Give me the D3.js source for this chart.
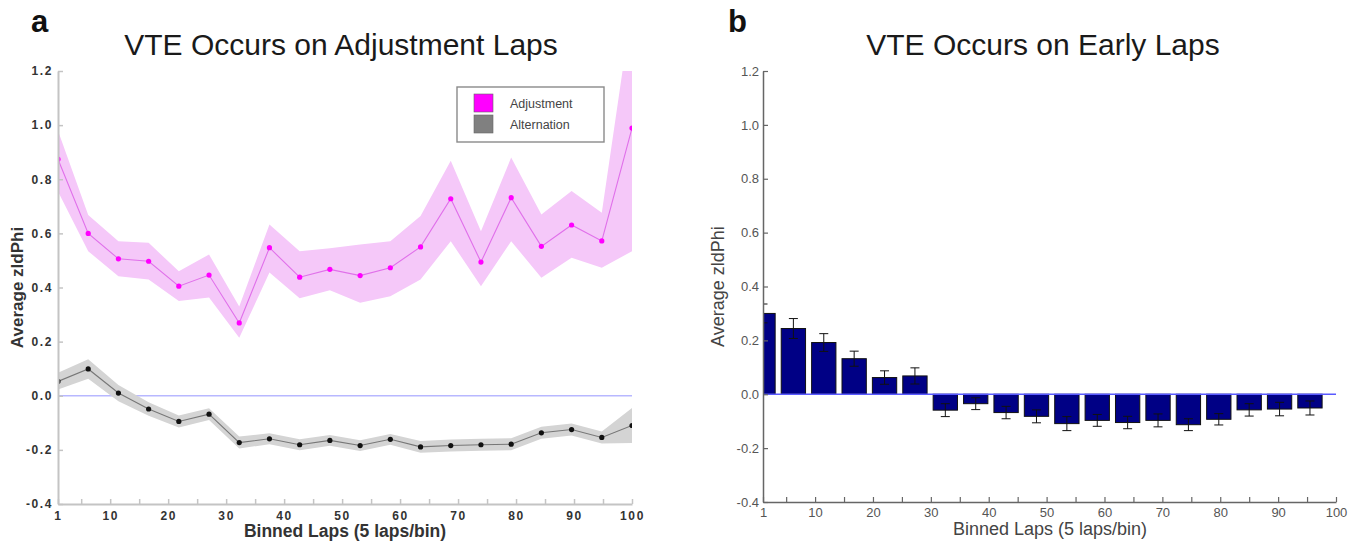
<!DOCTYPE html>
<html>
<head>
<meta charset="utf-8">
<script src="https://cdn.jsdelivr.net/npm/d3@7"></script>
<style>
  html, body { margin: 0; padding: 0; background: #fff; }
  svg { display: block; font-family: "Liberation Sans", Arial, sans-serif; }
</style>
</head>
<body>
<svg id="chart" width="1363" height="544"></svg>
<script>
// ---------- DATA ----------
// Panel a: binned laps (20 bins) and z-IdPhi averages with shaded error band
const lapBins = [1, 6.21, 11.42, 16.63, 21.84, 27.05, 32.26, 37.47, 42.68, 47.89,
                 53.11, 58.32, 63.53, 68.74, 73.95, 79.16, 84.37, 89.58, 94.79, 100];
const adjMean  = [0.874, 0.600, 0.506, 0.497, 0.405, 0.446, 0.269, 0.547, 0.438, 0.467,
                  0.444, 0.473, 0.550, 0.728, 0.494, 0.732, 0.552, 0.631, 0.572, 0.989];
const adjUpper = [0.979, 0.668, 0.571, 0.565, 0.460, 0.522, 0.330, 0.633, 0.534, 0.545,
                  0.559, 0.571, 0.664, 0.868, 0.608, 0.880, 0.670, 0.757, 0.676, 1.440];
const adjLower = [0.755, 0.534, 0.442, 0.430, 0.350, 0.363, 0.214, 0.455, 0.360, 0.390,
                  0.344, 0.368, 0.430, 0.571, 0.405, 0.571, 0.436, 0.510, 0.473, 0.534];
const altMean  = [0.053, 0.099, 0.010, -0.049, -0.095, -0.068, -0.173, -0.159, -0.181, -0.165,
                  -0.184, -0.161, -0.189, -0.184, -0.181, -0.179, -0.137, -0.125, -0.154, -0.110];
const altUpper = [0.085, 0.135, 0.040, -0.024, -0.073, -0.046, -0.151, -0.139, -0.161, -0.145,
                  -0.164, -0.141, -0.167, -0.162, -0.159, -0.157, -0.115, -0.103, -0.132, -0.045];
const altLower = [0.023, 0.063, -0.020, -0.074, -0.117, -0.090, -0.195, -0.179, -0.201, -0.185,
                  -0.204, -0.181, -0.211, -0.206, -0.203, -0.201, -0.159, -0.147, -0.176, -0.175];
const seriesNames = ["Adjustment", "Alternation"];

// Panel b: bar chart
const barBins = [1, 6.25, 11.5, 16.75, 22, 27.25, 32.5, 37.75, 43, 48.25,
                 53.5, 58.75, 64, 69.25, 74.5, 79.75, 85, 90.25, 95.5];
const barMean = [0.300, 0.244, 0.192, 0.132, 0.062, 0.068, -0.059, -0.035, -0.068, -0.082,
                 -0.109, -0.097, -0.105, -0.097, -0.113, -0.093, -0.058, -0.055, -0.051];
const barErr  = [0.035, 0.037, 0.033, 0.028, 0.025, 0.030, 0.024, 0.022, 0.023, 0.024,
                 0.026, 0.022, 0.023, 0.024, 0.022, 0.021, 0.023, 0.025, 0.026];
const barWidthUnits = 4.2;

// Ticks and labels
const xTickValues = [1, 5, 10, 15, 20, 25, 30, 35, 40, 45, 50, 55, 60, 65, 70, 75, 80, 85, 90, 95, 100];
const xTickLabels = [1, 10, 20, 30, 40, 50, 60, 70, 80, 90, 100];
const yTickValues = [-0.4, -0.2, 0, 0.2, 0.4, 0.6, 0.8, 1.0, 1.2];
const titles = ["VTE Occurs on Adjustment Laps", "VTE Occurs on Early Laps"];
const panelLetters = ["a", "b"];
const yLabel = "Average zldPhi";
const xLabel = "Binned Laps (5 laps/bin)";

// ---------- DRAW ----------
const svg = d3.select("#chart");
svg.append("rect").attr("width", 1363).attr("height", 544).attr("fill", "#fff");

const fmtY = d => d.toFixed(1);
const fmtX = d => xTickLabels.includes(d) ? String(d) : "";

// ===== Panel a =====
const xA = d3.scaleLinear().domain([1, 100]).range([58, 632]);
const yA = d3.scaleLinear().domain([-0.4, 1.2]).range([504, 71]);

svg.append("clipPath").attr("id", "clipA").append("rect")
  .attr("x", xA(1)).attr("y", yA(1.2))
  .attr("width", xA(100) - xA(1)).attr("height", yA(-0.4) - yA(1.2));

const gA = svg.append("g");
const plotA = gA.append("g").attr("clip-path", "url(#clipA)");
const idx = d3.range(lapBins.length);

const area = (up, lo) => d3.area()
  .x(i => xA(lapBins[i])).y0(i => yA(lo[i])).y1(i => yA(up[i]));
const line = (m) => d3.line().x(i => xA(lapBins[i])).y(i => yA(m[i]));

// zero line
plotA.append("line")
  .attr("x1", xA(1)).attr("x2", xA(100)).attr("y1", yA(0)).attr("y2", yA(0))
  .attr("stroke", "#b8b8ff").attr("stroke-width", 1.6);

// bands
plotA.append("path").datum(idx).attr("d", area(adjUpper, adjLower))
  .attr("fill", "#f5c8f9");
plotA.append("path").datum(idx).attr("d", area(altUpper, altLower))
  .attr("fill", "#d4d4d4");
// lines
plotA.append("path").datum(idx).attr("d", line(adjMean))
  .attr("fill", "none").attr("stroke", "#e070ea").attr("stroke-width", 1.1);
plotA.append("path").datum(idx).attr("d", line(altMean))
  .attr("fill", "none").attr("stroke", "#777").attr("stroke-width", 1.1);
// dots
plotA.selectAll("circle.adj").data(idx).join("circle").attr("class", "adj")
  .attr("cx", i => xA(lapBins[i])).attr("cy", i => yA(adjMean[i])).attr("r", 2.6)
  .attr("fill", "#ff00ff");
plotA.selectAll("circle.alt").data(idx).join("circle").attr("class", "alt")
  .attr("cx", i => xA(lapBins[i])).attr("cy", i => yA(altMean[i])).attr("r", 2.6)
  .attr("fill", "#111");

// axes a
const axA_y = gA.append("g").attr("transform", `translate(${xA(1)},0)`)
  .call(d3.axisLeft(yA).tickValues(yTickValues).tickFormat(fmtY)
        .tickSizeInner(-5).tickSizeOuter(0).tickPadding(5));
const axA_x = gA.append("g").attr("transform", `translate(0,${yA(-0.4)})`)
  .call(d3.axisBottom(xA).tickValues(xTickValues).tickFormat(fmtX)
        .tickSizeInner(-5).tickSizeOuter(0).tickPadding(7));
[axA_y, axA_x].forEach(ax => {
  ax.select(".domain").attr("stroke", "#c4c4c4").attr("stroke-width", 2);
  ax.selectAll(".tick line").attr("stroke", "#c4c4c4").attr("stroke-width", 1.5);
  ax.selectAll(".tick text").attr("fill", "#333").attr("font-size", 12)
    .attr("font-weight", "bold").attr("letter-spacing", "1.6px")
    .attr("font-family", "Liberation Sans, Arial, sans-serif");
});

// legend a
const leg = gA.append("g");
leg.append("rect").attr("x", 457).attr("y", 87).attr("width", 147).attr("height", 55)
  .attr("fill", "#fff").attr("stroke", "#8a8a8a").attr("stroke-width", 1.4);
const legColors = ["#ff00ff", "#808080"];
seriesNames.forEach((n, k) => {
  leg.append("rect").attr("x", 474).attr("y", 94 + k * 21).attr("width", 19).attr("height", 18)
    .attr("fill", legColors[k]).attr("stroke", "#666").attr("stroke-width", 0.6);
  leg.append("text").attr("x", 510).attr("y", 108 + k * 21).text(n)
    .attr("font-size", 12.5).attr("fill", "#444");
});

// titles / labels a
gA.append("text").attr("x", 31).attr("y", 32).text(panelLetters[0])
  .attr("font-size", 31).attr("font-weight", "bold").attr("fill", "#111");
gA.append("text").attr("x", 341).attr("y", 55).attr("text-anchor", "middle").text(titles[0])
  .attr("font-size", 30).attr("fill", "#1a1a1a");
gA.append("text").attr("transform", `translate(23,${(yA(1.2) + yA(-0.4)) / 2}) rotate(-90)`)
  .attr("text-anchor", "middle").text(yLabel)
  .attr("font-size", 17).attr("font-weight", "bold").attr("fill", "#333");
gA.append("text").attr("x", 345).attr("y", 537).attr("text-anchor", "middle").text(xLabel)
  .attr("font-size", 17.5).attr("font-weight", "bold").attr("fill", "#333");

// ===== Panel b =====
const xB = d3.scaleLinear().domain([1, 100]).range([763, 1336]);
const yB = d3.scaleLinear().domain([-0.4, 1.2]).range([502, 71]);

svg.append("clipPath").attr("id", "clipB").append("rect")
  .attr("x", xB(1)).attr("y", yB(1.2))
  .attr("width", xB(100) - xB(1)).attr("height", yB(-0.4) - yB(1.2));

const gB = svg.append("g");
const plotB = gB.append("g").attr("clip-path", "url(#clipB)");
const bidx = d3.range(barBins.length);
const bw = xB(1 + barWidthUnits) - xB(1);

plotB.selectAll("rect.bar").data(bidx).join("rect").attr("class", "bar")
  .attr("x", i => xB(barBins[i]) - bw / 2)
  .attr("y", i => yB(Math.max(0, barMean[i])))
  .attr("width", bw)
  .attr("height", i => Math.abs(yB(barMean[i]) - yB(0)))
  .attr("fill", "#000085").attr("stroke", "#111").attr("stroke-width", 1);

const capW = 4.5;
const eb = plotB.selectAll("g.eb").data(bidx).join("g").attr("class", "eb")
  .attr("stroke", "#111").attr("stroke-width", 1);
eb.append("line")
  .attr("x1", i => xB(barBins[i])).attr("x2", i => xB(barBins[i]))
  .attr("y1", i => yB(barMean[i] + barErr[i])).attr("y2", i => yB(barMean[i] - barErr[i]));
eb.append("line")
  .attr("x1", i => xB(barBins[i]) - capW).attr("x2", i => xB(barBins[i]) + capW)
  .attr("y1", i => yB(barMean[i] + barErr[i])).attr("y2", i => yB(barMean[i] + barErr[i]));
eb.append("line")
  .attr("x1", i => xB(barBins[i]) - capW).attr("x2", i => xB(barBins[i]) + capW)
  .attr("y1", i => yB(barMean[i] - barErr[i])).attr("y2", i => yB(barMean[i] - barErr[i]));

plotB.append("line")
  .attr("x1", xB(1)).attr("x2", xB(100)).attr("y1", yB(0)).attr("y2", yB(0))
  .attr("stroke", "#5a5aff").attr("stroke-width", 1.6);

const axB_y = gB.append("g").attr("transform", `translate(${xB(1)},0)`)
  .call(d3.axisLeft(yB).tickValues(yTickValues).tickFormat(fmtY)
        .tickSizeInner(-5).tickSizeOuter(0).tickPadding(4));
const axB_x = gB.append("g").attr("transform", `translate(0,${yB(-0.4)})`)
  .call(d3.axisBottom(xB).tickValues(xTickValues).tickFormat(fmtX)
        .tickSizeInner(-5).tickSizeOuter(0).tickPadding(6));
[axB_y, axB_x].forEach(ax => {
  ax.select(".domain").attr("stroke", "#666").attr("stroke-width", 1.5);
  ax.selectAll(".tick line").attr("stroke", "#666").attr("stroke-width", 1.2);
  ax.selectAll(".tick text").attr("fill", "#555").attr("font-size", 13)
    .attr("font-family", "Liberation Sans, Arial, sans-serif");
});

gB.append("text").attr("x", 728).attr("y", 32).text(panelLetters[1])
  .attr("font-size", 31).attr("font-weight", "bold").attr("fill", "#111");
gB.append("text").attr("x", 1043).attr("y", 55).attr("text-anchor", "middle").text(titles[1])
  .attr("font-size", 30).attr("fill", "#1a1a1a");
gB.append("text").attr("transform", `translate(724,${(yB(1.2) + yB(-0.4)) / 2}) rotate(-90)`)
  .attr("text-anchor", "middle").text(yLabel)
  .attr("font-size", 18).attr("fill", "#444");
gB.append("text").attr("x", 1050).attr("y", 535).attr("text-anchor", "middle").text(xLabel)
  .attr("font-size", 18).attr("fill", "#444");
</script>
</body>
</html>
